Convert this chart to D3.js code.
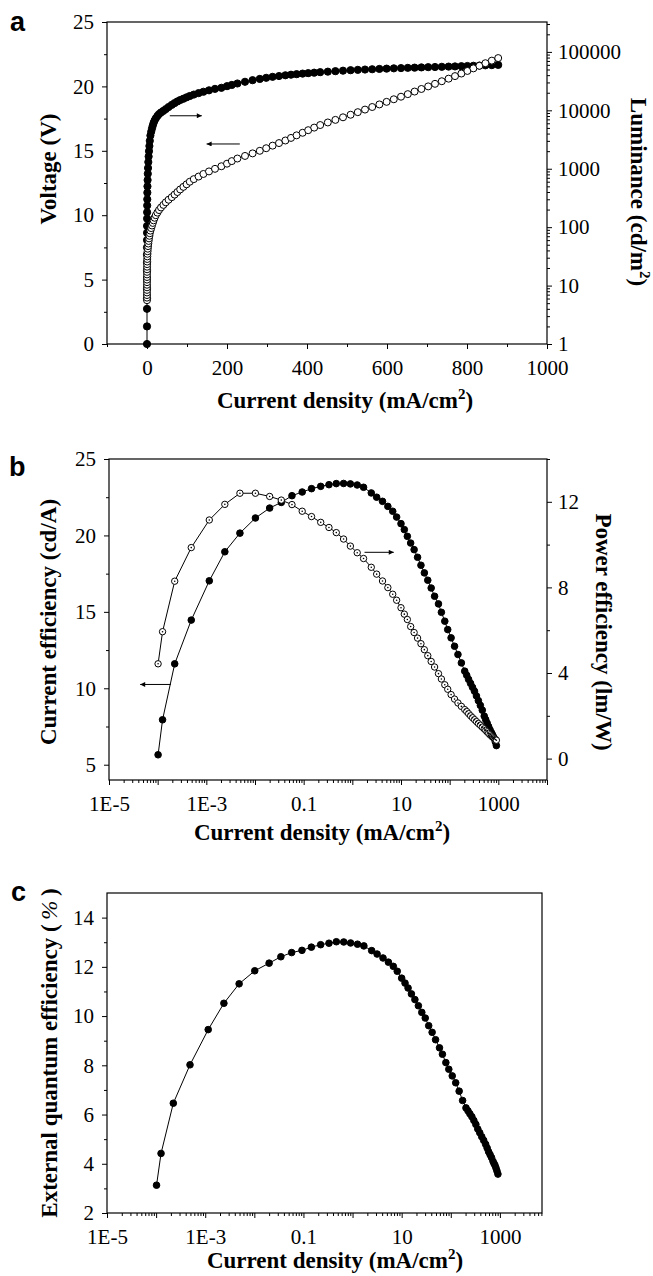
<!DOCTYPE html>
<html>
<head>
<meta charset="utf-8">
<script src="https://cdn.jsdelivr.net/npm/d3@7"></script>
<style>body{margin:0;background:#fff}</style>
</head>
<body>
<script>
// ---------- panel a : J-V-L ----------
const voltageA = [3.4,3.6,3.8,4.0,4.2,4.4,4.6,4.8,5.0,5.2,5.4,5.6,5.8,6.0,6.2,6.4,6.6,6.8,7.0,7.2,7.4,7.6,7.8,8.0,8.2,8.4,
  8.6,8.8,9.0,9.2,9.4,9.6,9.8,10.0,10.2,10.4,10.6,10.8,11.0,11.2,11.4,11.6,11.8,12.0,12.2,12.4,12.6,12.8,13.0,13.2,
  13.4,13.6,13.8,14.0,14.2,14.4,14.6,14.8,15.0,15.2,15.4,15.6,15.8,16.0,16.2,16.4,16.6,16.8,17.0,17.2,17.4,17.6,17.8,
  18.0,18.2,18.4,18.6,18.8,19.0,19.2,19.4,19.6,19.8,20.0,20.2,20.4,20.6,20.8,21.0,21.2,21.4,21.6,21.8,22.0,22.2];
const currentA = [0.0001,0.0001,0.0002,0.0005,0.001,0.002,0.005,0.01,0.02,0.035,0.06,0.1,0.15,0.22,0.32,0.45,0.62,0.85,1.15,1.5,
  2.0,2.6,3.3,4.1,5.0,6.0,7.0,8.5,10.5,12.5,14.5,16.5,19,22,26,30,35,41,47,54,62,69,76,83,91,99,107,117,129,141,
  155,170,186,200,212,226,245,264,282,298,314,330,346,360,374,389,403,418,433,452,471,490,509,527,545,563,581,599,617,635,
  652,669,686,703,720,737,754,770,786,801,816,831,846,862,878];
const luminanceA = [1,2,4,6,9,13,18,25,34,45,60,80,105,140,180,235,300,390,500,640,820,1030,1300,1620,2000,2450,
  3000,3700,4300,4900,5500,6100,6700,7300,8000,8600,9200,9800,10500,11400,12400,13300,14200,15000,15800,16700,17600,18600,19700,20800,
  22000,23300,24300,25900,27200,28800,30800,32800,34500,36000,37400,38600,39800,40700,41600,42500,43300,44100,45000,45900,
  46800,47700,48600,49300,49900,50500,51100,51700,52300,52800,53300,53800,54300,54800,55200,55600,56000,56400,56900,57400,
  57900,58400,58900,59400,59900];

// ---------- panels b, c : efficiencies ----------
const currentEff = [1.02e-4,1.26e-4,2.24e-4,4.90e-4,1.15e-3,2.40e-3,4.90e-3,1.02e-2,2.00e-2,3.47e-2,5.75e-2,9.33e-2,0.145,0.224,0.331,
  0.468,0.661,0.912,1.26,1.70,2.45,3.16,4.17,5.37,6.76,8.13,10.0,11.7,13.5,15.8,18.6,21.9,25.7,30.2,35.5,41.7,49.0,58.9,67.6,
  79.4,91.2,107,126,148,174,204,224,245,269,295,324,355,389,427,468,513,550,589,631,676,724,759,794,832,871,912];
const currentEfficiency = [5.65,7.94,11.6,14.46,17.03,18.93,20.15,21.14,21.79,22.16,22.6,22.84,23.06,23.21,23.32,23.39,23.40,23.37,
  23.30,23.15,22.78,22.50,22.23,21.90,21.58,21.20,20.77,20.38,19.94,19.50,19.07,18.57,18.05,17.55,17.07,16.56,16.02,15.52,14.97,
  14.39,13.84,13.30,12.75,12.21,11.66,11.12,10.85,10.58,10.32,10.06,9.81,9.50,9.19,8.88,8.57,8.18,7.95,7.72,7.50,7.28,7.09,6.95,
  6.82,6.68,6.48,6.25];
const powerEfficiency = [4.43,5.93,8.29,9.86,11.15,11.88,12.40,12.40,12.25,12.08,11.87,11.56,11.31,11.04,10.80,10.56,10.26,9.93,
  9.62,9.35,8.94,8.62,8.30,7.99,7.68,7.40,7.05,6.75,6.50,6.17,5.89,5.63,5.37,5.09,4.81,4.54,4.28,3.97,3.72,3.45,3.24,2.99,2.78,
  2.60,2.44,2.29,2.20,2.10,2.00,1.91,1.82,1.73,1.64,1.56,1.47,1.39,1.32,1.25,1.18,1.11,1.05,1.01,0.97,0.93,0.89,0.86];
const eqe = [3.13,4.42,6.46,8.02,9.45,10.52,11.31,11.84,12.15,12.41,12.58,12.67,12.80,12.90,12.96,13.02,13.01,12.97,12.92,12.85,
  12.66,12.52,12.36,12.19,12.02,11.82,11.54,11.34,11.14,10.90,10.67,10.42,10.15,9.92,9.61,9.34,9.04,8.71,8.45,8.11,7.84,7.57,
  7.29,6.95,6.57,6.27,6.15,6.03,5.91,5.76,5.60,5.41,5.26,5.10,4.95,4.79,4.64,4.49,4.37,4.25,4.10,4.01,3.94,3.83,3.71,3.58];

// ---------- tick labels ----------
const voltTicks = [0,5,10,15,20,25];
const jLinTicks = [0,200,400,600,800,1000];
const lumTicks = [1,10,100,1000,10000,100000];
const logTickValues = [1e-5,1e-3,0.1,10,1000];
const logTickLabels = ["1E-5","1E-3","0.1","10","1000"];
const ceTicks = [5,10,15,20,25];
const peTicks = [0,4,8,12];
const eqeTicks = [2,4,6,8,10,12,14];

const serif = "'Liberation Serif','Times New Roman',Times,serif";
const sans = "'Liberation Sans',Arial,Helvetica,sans-serif";

const svg = d3.select("body").append("svg").attr("width", 653).attr("height", 1276).style("background", "#fff");

svg.append("defs").append("marker")
  .attr("id", "arrow").attr("viewBox", "0 0 10 10").attr("refX", 10).attr("refY", 5)
  .attr("markerWidth", 9).attr("markerHeight", 5).attr("markerUnits", "userSpaceOnUse").attr("orient", "auto")
  .append("path").attr("d", "M0,0L10,5L0,10z").attr("fill", "#000");

function addAxis(gen, tx, ty) {
  const g = svg.append("g").attr("transform", `translate(${tx},${ty})`).call(gen);
  g.select(".domain").remove();
  g.selectAll("line").attr("stroke", "#000").attr("stroke-width", 1);
  g.selectAll("text").attr("fill", "#000").style("font-family", serif).style("font-size", "21px");
  return g;
}

function frame(x0, x1, y0, y1) {
  svg.append("rect").attr("x", x0).attr("y", y0).attr("width", x1 - x0).attr("height", y1 - y0)
    .attr("fill", "none").attr("stroke", "#000").attr("stroke-width", 1.2);
}

function logMinor(scale) {
  const [lo, hi] = scale.domain();
  const out = [];
  for (let e = Math.floor(Math.log10(lo)); e <= Math.ceil(Math.log10(hi)); e++)
    for (let m = 2; m <= 9; m++) { const v = m * Math.pow(10, e); if (v >= lo && v <= hi) out.push(v); }
  return out;
}
function logMajor(scale) {
  const [lo, hi] = scale.domain();
  const out = [];
  for (let e = Math.ceil(Math.log10(lo) - 1e-9); e <= Math.floor(Math.log10(hi) + 1e-9); e++) out.push(Math.pow(10, e));
  return out;
}
function logLabel(d) {
  const i = logTickValues.findIndex(v => Math.abs(Math.log10(v) - Math.log10(d)) < 1e-6);
  return i < 0 ? "" : logTickLabels[i];
}

function series(xs, ys, x, y, opt) {
  const pts = xs.map((d, i) => [x(d), y(ys[i])]);
  svg.append("path").attr("d", d3.line()(pts)).attr("fill", "none").attr("stroke", "#000").attr("stroke-width", 1);
  const g = svg.append("g");
  g.selectAll("circle").data(pts).join("circle")
    .attr("cx", d => d[0]).attr("cy", d => d[1]).attr("r", opt.r)
    .attr("fill", opt.open ? "#fff" : "#000").attr("stroke", "#000").attr("stroke-width", 1);
  if (opt.dot) {
    g.selectAll("circle.dot").data(pts).join("circle").attr("class", "dot")
      .attr("cx", d => d[0]).attr("cy", d => d[1]).attr("r", 0.8).attr("fill", "#000");
  }
}

function arrow(x1, x2, y) {
  svg.append("line").attr("x1", x1).attr("x2", x2).attr("y1", y).attr("y2", y)
    .attr("stroke", "#000").attr("stroke-width", 1).attr("marker-end", "url(#arrow)");
}

function title(txt, x, y, rot, sup, tail) {
  const t = svg.append("text").attr("text-anchor", "middle")
    .attr("transform", `translate(${x},${y}) rotate(${rot})`)
    .style("font-family", serif).style("font-size", "23px").style("font-weight", "bold").attr("fill", "#000");
  t.append("tspan").text(txt);
  if (sup) {
    t.append("tspan").attr("dy", -9).style("font-size", "15px").text(sup);
    t.append("tspan").attr("dy", 9).text(tail);
  }
  return t;
}

function panelLabel(txt, x, y) {
  svg.append("text").attr("x", x).attr("y", y).text(txt)
    .style("font-family", sans).style("font-size", "27px").style("font-weight", "bold").attr("fill", "#000");
}

// ================= panel a =================
{
  const L = 107, R = 547, T = 22, B = 344;
  const x = d3.scaleLinear().domain([-100, 1000]).range([L, R]);
  const y = d3.scaleLinear().domain([0, 25]).range([B, T]);
  const y2 = d3.scaleLog().domain([1, 325000]).range([B, T]);

  addAxis(d3.axisBottom(x).tickValues(jLinTicks).tickSize(5).tickPadding(11).tickFormat(d3.format("d")).tickSizeOuter(0), 0, B);
  addAxis(d3.axisBottom(x).tickValues([-100,100,300,500,700,900]).tickSize(3).tickFormat("").tickSizeOuter(0), 0, B);
  addAxis(d3.axisLeft(y).tickValues(voltTicks).tickSize(5).tickPadding(8).tickSizeOuter(0), L, 0);
  addAxis(d3.axisLeft(y).tickValues([2.5,7.5,12.5,17.5,22.5]).tickSize(3).tickFormat("").tickSizeOuter(0), L, 0);
  addAxis(d3.axisRight(y2).tickValues(lumTicks).tickSize(5).tickPadding(6).tickFormat(d3.format("d")).tickSizeOuter(0), R, 0);
  addAxis(d3.axisRight(y2).tickValues(logMinor(y2)).tickSize(3).tickFormat("").tickSizeOuter(0), R, 0);
  frame(L, R, T, B);

  series(currentA, luminanceA, x, y2, { r: 3.6, open: false });
  series(currentA, voltageA, x, y, { r: 3.5, open: true });

  arrow(x(57), x(137), y(17.72));
  arrow(x(232), x(149), y(15.53));

  title("Current density (mA/cm", 345, 408, 0, "2", ")");
  title("Voltage (V)", 56, 169, -90);
  title("Luminance (cd/m", 631, 192, 90, "2", ")");
  panelLabel("a", 10, 31);
}

// ================= panel b =================
{
  const L = 109, R = 547, T = 459, B = 780;
  const x = d3.scaleLog().domain([1e-5, 1e4]).range([L, R]);
  const y = d3.scaleLinear().domain([4, 25]).range([B, T]);
  const y2 = d3.scaleLinear().domain([-1, 14]).range([B, T]);

  addAxis(d3.axisBottom(x).tickValues(logMajor(x)).tickSize(5).tickPadding(11).tickFormat(logLabel).tickSizeOuter(0), 0, B);
  addAxis(d3.axisBottom(x).tickValues(logMinor(x)).tickSize(3).tickFormat("").tickSizeOuter(0), 0, B);
  addAxis(d3.axisLeft(y).tickValues(ceTicks).tickSize(5).tickPadding(8).tickSizeOuter(0), L, 0);
  addAxis(d3.axisLeft(y).tickValues([7.5,12.5,17.5,22.5]).tickSize(3).tickFormat("").tickSizeOuter(0), L, 0);
  addAxis(d3.axisRight(y2).tickValues(peTicks).tickSize(5).tickPadding(6).tickSizeOuter(0), R, 0);
  addAxis(d3.axisRight(y2).tickValues([2,6,10,14]).tickSize(3).tickFormat("").tickSizeOuter(0), R, 0);
  frame(L, R, T, B);

  series(currentEff, currentEfficiency, x, y, { r: 3.3, open: false });
  series(currentEff, powerEfficiency, x, y2, { r: 3.2, open: true, dot: true });

  arrow(x(1.86e-4), x(4.37e-5), y(10.25));
  arrow(x(1.78), x(7.1), y2(9.64));

  title("Current density (mA/cm", 322, 840, 0, "2", ")");
  title("Current efficiency (cd/A)", 56, 622, -90);
  title("Power efficiency (lm/W)", 596, 632, 90);
  panelLabel("b", 9, 476);
}

// ================= panel c =================
{
  const L = 107, R = 542, T = 893, B = 1213;
  const x = d3.scaleLog().domain([1e-5, 7200]).range([L, R]);
  const y = d3.scaleLinear().domain([2, 15]).range([B, T]);

  addAxis(d3.axisBottom(x).tickValues(logMajor(x)).tickSize(5).tickPadding(11).tickFormat(logLabel).tickSizeOuter(0), 0, B);
  addAxis(d3.axisBottom(x).tickValues(logMinor(x)).tickSize(3).tickFormat("").tickSizeOuter(0), 0, B);
  addAxis(d3.axisLeft(y).tickValues(eqeTicks).tickSize(5).tickPadding(8).tickSizeOuter(0), L, 0);
  addAxis(d3.axisLeft(y).tickValues([3,5,7,9,11,13]).tickSize(3).tickFormat("").tickSizeOuter(0), L, 0);
  frame(L, R, T, B);

  series(currentEff, eqe, x, y, { r: 3.3, open: false });

  title("Current density (mA/cm", 335, 1268, 0, "2", ")");
  const t = svg.append("text").attr("text-anchor", "middle")
    .attr("transform", "translate(57,1053) rotate(-90)")
    .style("font-family", serif).style("font-size", "23px").attr("fill", "#000");
  t.append("tspan").style("font-weight", "bold").text("External quantum efficiency (");
  t.append("tspan").style("font-style", "italic").text("\u2009%\u2009");
  t.append("tspan").style("font-weight", "bold").text(")");
  panelLabel("c", 11, 901);
}
</script>
</body>
</html>
